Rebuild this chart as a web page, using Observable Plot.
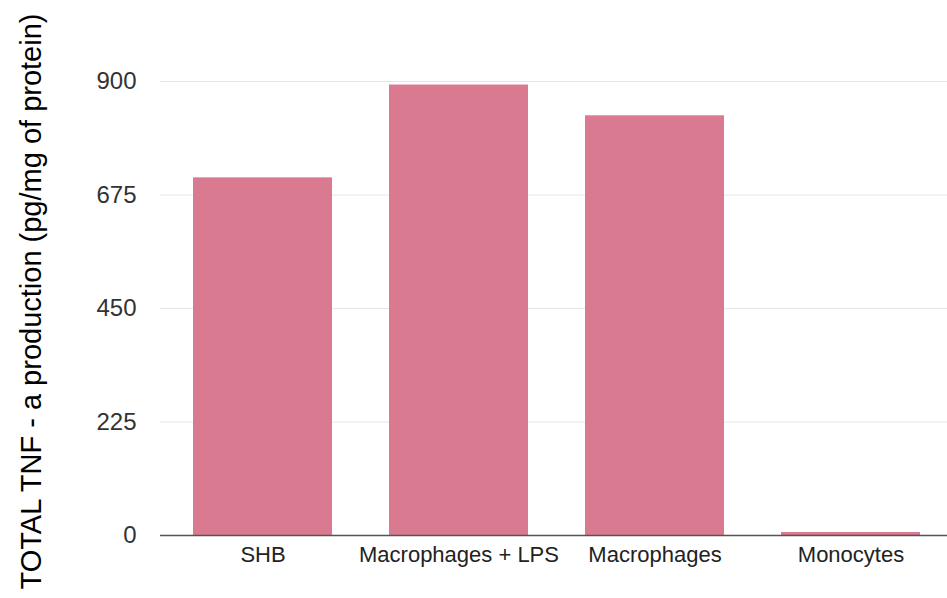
<!DOCTYPE html>
<html>
<head>
<meta charset="utf-8">
<script src="https://cdn.jsdelivr.net/npm/d3@7"></script>
<script src="https://cdn.jsdelivr.net/npm/@observablehq/plot@0.6"></script>
<style>
  html, body { margin: 0; padding: 0; background: #fff; }
  #chart { width: 947px; height: 598px; }
</style>
</head>
<body>
<div id="chart"></div>
<script>
const categories = ["SHB", "Macrophages + LPS", "Macrophages", "Monocytes"];
const values = [709, 893, 832, 6];
const yTicks = [0, 225, 450, 675, 900];
const yLabel = "TOTAL TNF - a production (pg/mg of protein)";

const data = categories.map((c, i) => ({category: c, value: values[i]}));

const chart = Plot.plot({
  width: 947,
  height: 598,
  marginLeft: 160,
  marginRight: 0,
  marginTop: 81,
  marginBottom: 63,
  style: {fontFamily: "Liberation Sans, Arial, sans-serif", background: "#fff"},
  x: {domain: categories, range: [160, 953], paddingInner: 0.291, paddingOuter: 0.163},
  y: {domain: [0, 900], ticks: yTicks},
  marks: [
    Plot.gridY(yTicks, {stroke: "#e6e6e6", strokeOpacity: 1, strokeWidth: 1}),
    Plot.barY(data, {x: "category", y: "value", fill: "#d97a91"}),
    Plot.ruleY([0], {stroke: "#555", strokeWidth: 1.5}),
    Plot.axisY({ticks: yTicks, tickSize: 0, tickPadding: 24, fontSize: 24, fill: "#333",
      label: yLabel, labelAnchor: "center", labelArrow: "none", labelOffset: 140}),
    Plot.axisX({tickSize: 0, tickPadding: 11, fontSize: 22, fill: "#222", label: null})
  ]
});
document.getElementById("chart").appendChild(chart);
// style the y-axis title
chart.querySelectorAll("g[aria-label='y-axis label']").forEach(g => {
  const tr = g.getAttribute("transform") || "";
  g.setAttribute("transform", "translate(0,-7) " + tr);
  g.querySelectorAll("text").forEach(t => {
    t.setAttribute("font-size", "29");
    t.setAttribute("fill", "#000");
  });
});
</script>
</body>
</html>
